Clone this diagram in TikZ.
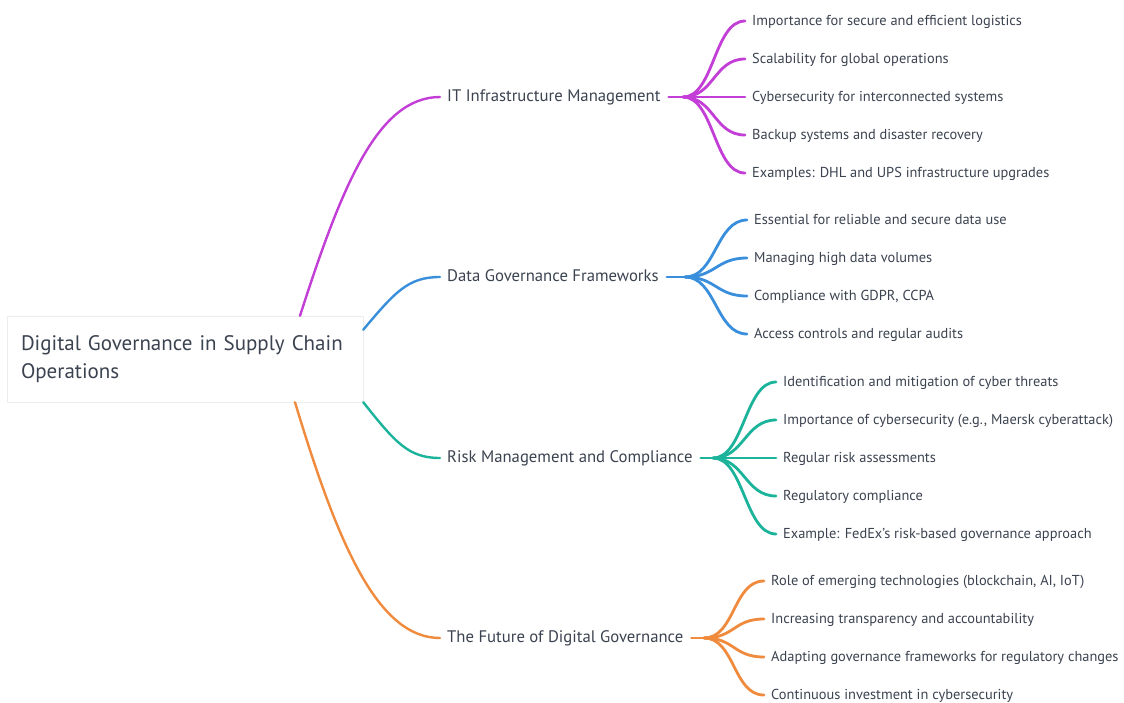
\documentclass[tikz,border=0pt]{standalone}
\usepackage{fontspec}
\setmainfont{PT Sans}
\definecolor{cpurple}{HTML}{C23ED6}
\definecolor{cblue}{HTML}{3A8FDC}
\definecolor{cteal}{HTML}{1CB39B}
\definecolor{corange}{HTML}{F08B3E}
\definecolor{ctext}{HTML}{3B4350}
\begin{document}
\begin{tikzpicture}[x=1pt,y=-1pt,
  rootbox/.style={draw=black!7,fill=white,minimum width=356pt,minimum height=86pt,
    text width=328pt,align=left,inner sep=0pt,font=\fontsize{21}{28}\selectfont,text=ctext},
  topic/.style={anchor=west,inner sep=0pt,text height=0.95em,text depth=0pt,
    font=\fontsize{16.7}{18}\selectfont,text=ctext},
  leaf/.style={anchor=west,inner sep=0pt,text height=0.95em,text depth=0pt,
    font=\fontsize{14.4}{16}\selectfont,text=ctext},
  branch/.style={line width=2.4pt,line cap=round},
  twig/.style={line width=2.8pt,line cap=round}]
\useasboundingbox[fill=white] (0,0) rectangle (1124,702);

\node[rootbox] (root) at (185,359) {Digital Governance in Supply Chain Operations};

% level 1
\node[topic] (it) at (447,97) {IT Infrastructure Management};
\node[topic] (dg) at (447,277) {Data Governance Frameworks};
\node[topic] (rm) at (447,458) {Risk Management and Compliance};
\node[topic] (fu) at (447,638) {The Future of Digital Governance};

\draw[branch,cpurple] ([xshift=115pt]root.north) .. controls (342,185) and (378,97) .. ([xshift=-7pt]it.west);
\draw[branch,cblue] ([yshift=-14pt]root.north east) .. controls (395,292) and (408,277) .. ([xshift=-7pt]dg.west);
\draw[branch,cteal] (root.south east) .. controls (395,442) and (408,458) .. ([xshift=-7pt]rm.west);
\draw[branch,corange] ([xshift=110pt]root.south) .. controls (338,545) and (378,638) .. ([xshift=-7pt]fu.west);

% hubs
\coordinate (itH) at (683,97);
\coordinate (dgH) at (685,277);
\coordinate (rmH) at (713,458);
\coordinate (fuH) at (704,638);

% IT leaves
\node[leaf] (it1) at (752,21) {Importance for secure and efficient logistics};
\node[leaf] (it2) at (752,59) {Scalability for global operations};
\node[leaf] (it3) at (752,97) {Cybersecurity for interconnected systems};
\node[leaf] (it4) at (752,135) {Backup systems and disaster recovery};
\node[leaf] (it5) at (752,173) {Examples: DHL and UPS infrastructure upgrades};

% DG leaves
\node[leaf] (dg1) at (754,220) {Essential for reliable and secure data use};
\node[leaf] (dg2) at (754,258) {Managing high data volumes};
\node[leaf] (dg3) at (754,296) {Compliance with GDPR, CCPA};
\node[leaf] (dg4) at (754,334) {Access controls and regular audits};

% RM leaves
\node[leaf] (rm1) at (783,382) {Identification and mitigation of cyber threats};
\node[leaf] (rm2) at (783,420) {Importance of cybersecurity (e.g., Maersk cyberattack)};
\node[leaf] (rm3) at (783,458) {Regular risk assessments};
\node[leaf] (rm4) at (783,496) {Regulatory compliance};
\node[leaf] (rm5) at (783,534) {Example: FedEx's risk-based governance approach};

% FU leaves
\node[leaf] (fu1) at (771,581) {Role of emerging technologies (blockchain, AI, IoT)};
\node[leaf] (fu2) at (771,619) {Increasing transparency and accountability};
\node[leaf] (fu3) at (771,657) {Adapting governance frameworks for regulatory changes};
\node[leaf] (fu4) at (771,695) {Continuous investment in cybersecurity};

% stubs
\draw[twig,cpurple] ([xshift=8pt]it.east) -- (itH);
\draw[twig,cblue] ([xshift=8pt]dg.east) -- (dgH);
\draw[twig,cteal] ([xshift=8pt]rm.east) -- (rmH);
\draw[twig,corange] ([xshift=8pt]fu.east) -- (fuH);

% fans
\foreach \n in {it1,it2,it3,it4,it5}{
  \draw[twig,cpurple] (itH) .. controls ++(31,0) and ([xshift=-38pt]\n.west) .. ([xshift=-7pt]\n.west);}
\foreach \n in {dg1,dg2,dg3,dg4}{
  \draw[twig,cblue] (dgH) .. controls ++(31,0) and ([xshift=-38pt]\n.west) .. ([xshift=-7pt]\n.west);}
\foreach \n in {rm1,rm2,rm3,rm4,rm5}{
  \draw[twig,cteal] (rmH) .. controls ++(31,0) and ([xshift=-38pt]\n.west) .. ([xshift=-7pt]\n.west);}
\foreach \n in {fu1,fu2,fu3,fu4}{
  \draw[twig,corange] (fuH) .. controls ++(31,0) and ([xshift=-38pt]\n.west) .. ([xshift=-7pt]\n.west);}
\end{tikzpicture}
\end{document}
